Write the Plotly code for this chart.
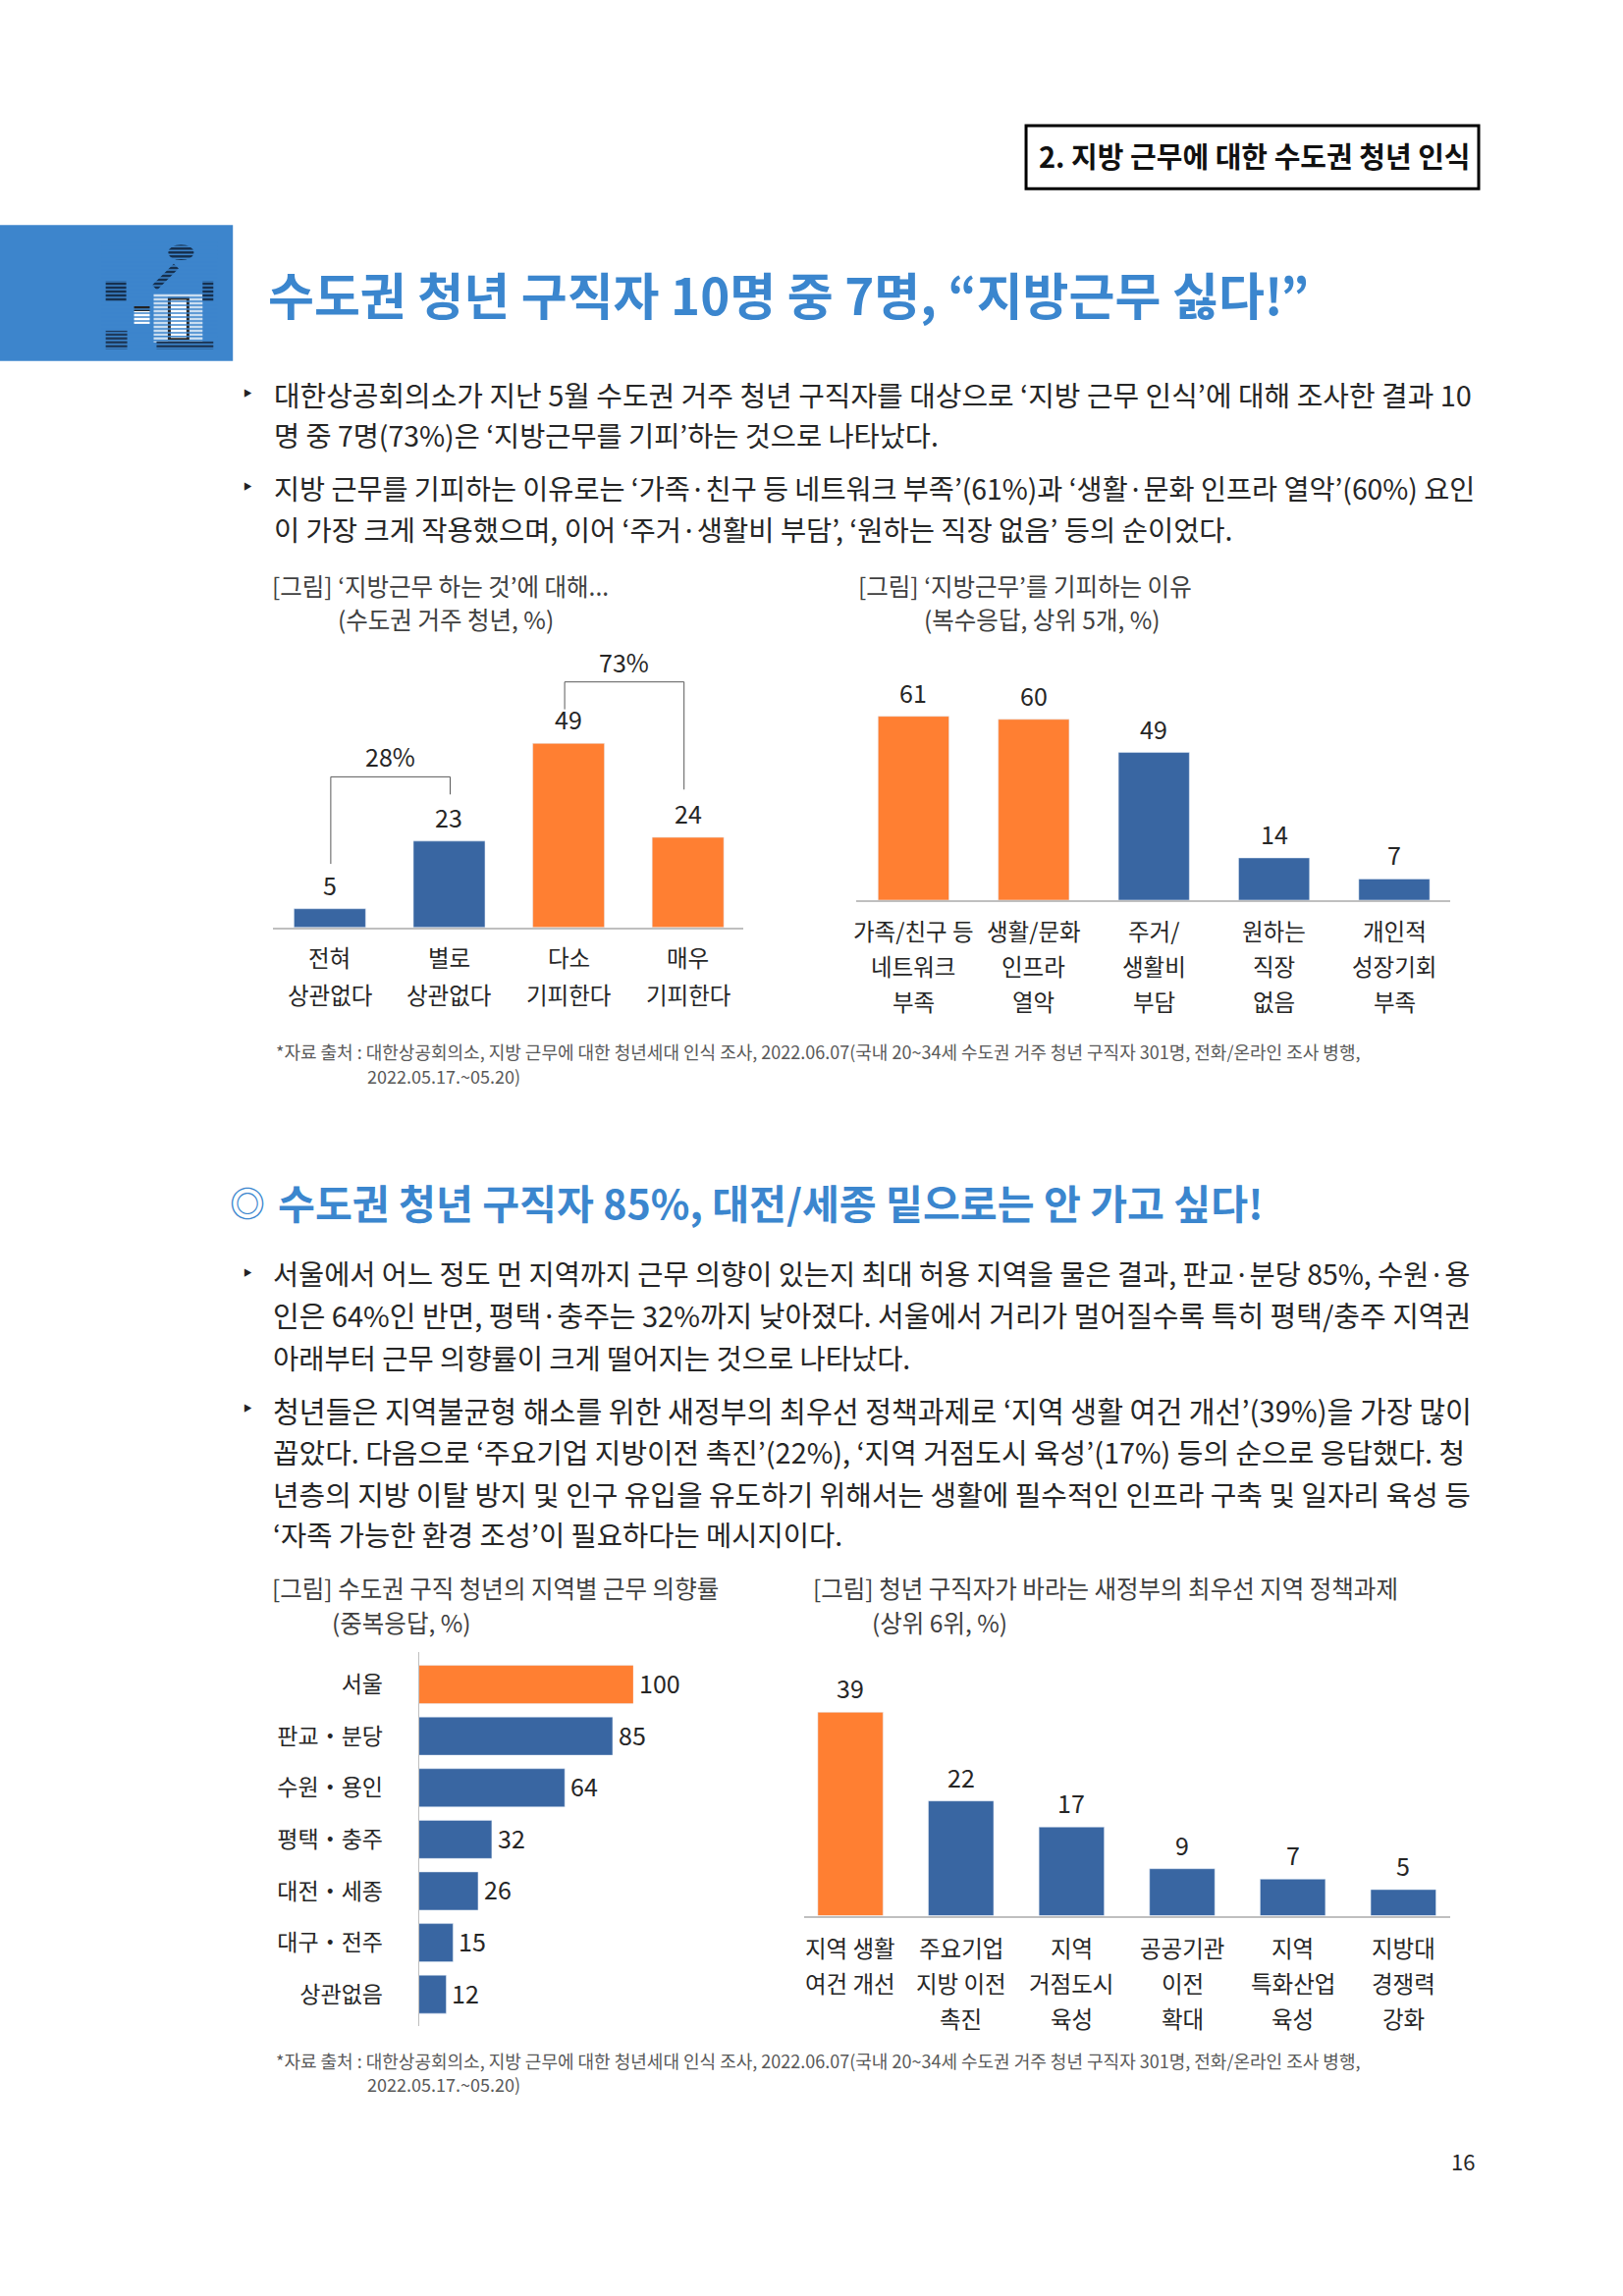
import plotly.graph_objects as go

W, H = 1653, 2339
S = 0.9967  # my measured page coordinates run slightly large
FONT = "Noto Sans CJK KR"
BLUE = "#3966A2"
ORANGE = "#FF7F32"
TITLE_BLUE = "#3B86CE"
TEXT = "#262626"
GREY_LINE = "#BFBFBF"

# --- chart data ---
attitude_cats = ["전혀 상관없다", "별로 상관없다", "다소 기피한다", "매우 기피한다"]
attitude_lines = [["전혀", "상관없다"], ["별로", "상관없다"], ["다소", "기피한다"], ["매우", "기피한다"]]
attitude_vals = [5, 23, 49, 24]
attitude_cols = [BLUE, BLUE, ORANGE, ORANGE]

reason_cats = ["가족/친구 등 네트워크 부족", "생활/문화 인프라 열악", "주거/생활비 부담", "원하는 직장 없음", "개인적 성장기회 부족"]
reason_lines = [["가족/친구 등", "네트워크", "부족"], ["생활/문화", "인프라", "열악"], ["주거/", "생활비", "부담"],
                ["원하는", "직장", "없음"], ["개인적", "성장기회", "부족"]]
reason_vals = [61, 60, 49, 14, 7]
reason_cols = [ORANGE, ORANGE, BLUE, BLUE, BLUE]

region_cats = ["서울", "판교・분당", "수원・용인", "평택・충주", "대전・세종", "대구・전주", "상관없음"]
region_vals = [100, 85, 64, 32, 26, 15, 12]
region_cols = [ORANGE, BLUE, BLUE, BLUE, BLUE, BLUE, BLUE]

policy_cats = ["지역 생활 여건 개선", "주요기업 지방 이전 촉진", "지역 거점도시 육성", "공공기관 이전 확대", "지역 특화산업 육성", "지방대 경쟁력 강화"]
policy_lines = [["지역 생활", "여건 개선"], ["주요기업", "지방 이전", "촉진"], ["지역", "거점도시", "육성"],
                ["공공기관", "이전", "확대"], ["지역", "특화산업", "육성"], ["지방대", "경쟁력", "강화"]]
policy_vals = [39, 22, 17, 9, 7, 5]
policy_cols = [ORANGE, BLUE, BLUE, BLUE, BLUE, BLUE]

# --- page text ---
page_tag = "2. 지방 근무에 대한 수도권 청년 인식"
page_title = "수도권 청년 구직자 10명 중 7명, “지방근무 싫다!”"
sub_title = "수도권 청년 구직자 85%, 대전/세종 밑으로는 안 가고 싶다!"
body_top = [
    "대한상공회의소가 지난 5월 수도권 거주 청년 구직자를 대상으로 ‘지방 근무 인식’에 대해 조사한 결과 10",
    "명 중 7명(73%)은 ‘지방근무를 기피’하는 것으로 나타났다.",
    "지방 근무를 기피하는 이유로는 ‘가족·친구 등 네트워크 부족’(61%)과 ‘생활·문화 인프라 열악’(60%) 요인",
    "이 가장 크게 작용했으며, 이어 ‘주거·생활비 부담’, ‘원하는 직장 없음’ 등의 순이었다.",
]
body_top_sizes = [28.95, 28.4, 28.3, 28.5]
body_bottom = [
    "서울에서 어느 정도 먼 지역까지 근무 의향이 있는지 최대 허용 지역을 물은 결과, 판교·분당 85%, 수원·용",
    "인은 64%인 반면, 평택·충주는 32%까지 낮아졌다. 서울에서 거리가 멀어질수록 특히 평택/충주 지역권",
    "아래부터 근무 의향률이 크게 떨어지는 것으로 나타났다.",
    "청년들은 지역불균형 해소를 위한 새정부의 최우선 정책과제로 ‘지역 생활 여건 개선’(39%)을 가장 많이",
    "꼽았다. 다음으로 ‘주요기업 지방이전 촉진’(22%), ‘지역 거점도시 육성’(17%) 등의 순으로 응답했다. 청",
    "년층의 지방 이탈 방지 및 인구 유입을 유도하기 위해서는 생활에 필수적인 인프라 구축 및 일자리 육성 등",
    "‘자족 가능한 환경 조성’이 필요하다는 메시지이다.",
]
body_bottom_sizes = [28.4, 29.0, 28.5, 29.2, 28.9, 28.9, 28.5]
source_1 = "*자료 출처 : 대한상공회의소, 지방 근무에 대한 청년세대 인식 조사, 2022.06.07(국내 20~34세 수도권 거주 청년 구직자 301명, 전화/온라인 조사 병행,"
source_2 = "2022.05.17.~05.20)"


def px(x):
    return x * S / W


def py(y):
    return 1 - y * S / H


fig = go.Figure()
notes = []
shapes = []


def put(text, x, y, size, color=TEXT, anchor="left", weight=400):
    notes.append(dict(text=text, x=px(x), y=py(y), xref="paper", yref="paper", xanchor=anchor,
                      yanchor="middle", showarrow=False,
                      font=dict(family=FONT, size=size, color=color, weight=weight)))


def rect(x0, y0, x1, y1, fill, line=None, width=0):
    shapes.append(dict(type="rect", xref="paper", yref="paper", x0=px(x0), x1=px(x1), y0=py(y0), y1=py(y1),
                       fillcolor=fill, line=dict(color=line or fill, width=width), layer="above"))


def seg(x0, y0, x1, y1, color="#595959", width=1):
    shapes.append(dict(type="line", xref="paper", yref="paper", x0=px(x0), x1=px(x1), y0=py(y0), y1=py(y1),
                       line=dict(color=color, width=width), layer="above"))


# --- vertical bar charts ---

def column_chart(idx, cats, vals, cols, lines, left, right, first_x, pitch, base, per_unit, top, gap, line_ys):
    name = "" if idx == 1 else str(idx)
    fig.add_trace(go.Bar(x=cats, y=vals, marker_color=cols, width=1 - gap, xaxis="x" + name, yaxis="y" + name,
                         showlegend=False, hoverinfo="skip"))
    x_low = (left - first_x) / pitch
    x_high = x_low + (right - left) / pitch
    fig.update_layout({
        "xaxis" + name: dict(domain=[px(left), px(right)], range=[x_low, x_high], type="category",
                             anchor="y" + name, showline=True, linecolor=GREY_LINE, linewidth=2,
                             showticklabels=False, ticks="", showgrid=False, zeroline=False),
        "yaxis" + name: dict(domain=[py(base), py(top)], range=[0, (base - top) / per_unit], anchor="x" + name,
                             visible=False, showgrid=False, zeroline=False),
    })
    for cat, val, parts in zip(cats, vals, lines):
        notes.append(dict(text=str(val), x=cat, y=val, xref="x" + name, yref="y" + name, yshift=25, yanchor="middle",
                          showarrow=False, font=dict(family=FONT, size=25, color=TEXT)))
        for part, ly in zip(parts, line_ys):
            notes.append(dict(text=part, x=cat, y=py(ly), xref="x" + name, yref="paper", yanchor="middle",
                              showarrow=False, font=dict(family=FONT, size=23.5, color=TEXT)))


column_chart(1, attitude_cats, attitude_vals, attitude_cols, attitude_lines,
             279, 760, 337, 122, 948, 3.84, 640, 0.40, [978, 1016])
column_chart(2, reason_cats, reason_vals, reason_cols, reason_lines,
             875, 1482, 933.5, 122.8, 920, 3.08, 690, 0.41, [951, 987, 1023])
column_chart(4, policy_cats, policy_vals, policy_cols, policy_lines,
             822, 1482, 869, 113, 1958, 5.33, 1700, 0.41, [1991, 2027, 2063])

# --- horizontal bars (source bar for 100 stops short, the axis clips it there) ---
region_max = 94
fig.add_trace(go.Bar(y=region_cats, x=region_vals, orientation="h", marker_color=region_cols, width=0.74,
                     xaxis="x3", yaxis="y3", showlegend=False, hoverinfo="skip"))
fig.update_layout(
    xaxis3=dict(domain=[px(428), px(647)], range=[0, region_max], anchor="y3", visible=False,
                showgrid=False, zeroline=False),
    yaxis3=dict(domain=[py(2071.3), py(1688.6)], range=[6.623, -0.627], type="category", anchor="x3",
                showline=True, linecolor=GREY_LINE, linewidth=1, ticks="", showgrid=False, zeroline=False,
                ticklabelstandoff=31, tickfont=dict(family=FONT, size=23, color=TEXT)),
)
for cat, val in zip(region_cats, region_vals):
    notes.append(dict(text=str(val), x=min(val, region_max), y=cat, xref="x3", yref="y3", xanchor="left", xshift=4,
                      yshift=2, showarrow=False, font=dict(family=FONT, size=25, color=TEXT)))

# --- page furniture ---
rect(1048.5, 128.5, 1511, 193, "rgba(0,0,0,0)", "#000000", 3)
put(page_tag, 1059, 159, 29, "#111111", weight=700)
rect(0, 230, 238, 369, "#3D85CC")
put(page_title, 271.5, 300, 51, TITLE_BLUE, weight=700)
put("◎", 233, 1228, 36, TITLE_BLUE)
put(sub_title, 282, 1228, 41.2, TITLE_BLUE, weight=700)

# icon
rect(157, 300, 207, 350, "#C9DDF0")
rect(173, 305, 192, 347, "#FFFFFF", "#2B2B2B", 3)
rect(137, 318, 153, 331, "#FFFFFF")
rect(137, 313, 153, 318, "#222222")
rect(108, 287, 129, 308, "#16304F")
rect(207, 287, 218, 308, "#16304F")
rect(108, 338, 130, 357, "#1E3A5C")
rect(160, 349, 218, 357, "#1E3A5C")
shapes.append(dict(type="circle", xref="paper", yref="paper", x0=px(172), x1=px(198), y0=py(250), y1=py(266),
                   fillcolor="#16304F", line=dict(width=0), layer="above"))
seg(180, 272, 158, 294, "#16304F", 7)
# the icon in the source is scan-lined
for stripe_y in range(248, 360, 4):
    seg(104, stripe_y, 222, stripe_y, "#3D85CC", 1.5)

for bullet_y in [400, 496, 1299, 1438]:
    put("‣", 246, bullet_y, 28, "#222222")

for line, size, y in zip(body_top, body_top_sizes, [402, 444, 498, 540]):
    put(line, 278, y, size)
for line, size, y in zip(body_bottom, body_bottom_sizes, [1301, 1343, 1387, 1441, 1483, 1526, 1568]):
    put(line, 277, y, size)

put("[그림] ‘지방근무 하는 것’에 대해...", 276, 598, 24.5, "#404040")
put("(수도권 거주 청년, %)", 343, 633, 24.5, "#404040")
put("[그림] ‘지방근무’를 기피하는 이유", 875, 598, 24.5, "#404040")
put("(복수응답, 상위 5개, %)", 942, 633, 24.5, "#404040")
put("[그림] 수도권 구직 청년의 지역별 근무 의향률", 276, 1623, 24.5, "#404040")
put("(중복응답, %)", 337, 1658, 24.5, "#404040")
put("[그림] 청년 구직자가 바라는 새정부의 최우선 지역 정책과제", 829, 1623, 24.5, "#404040")
put("(상위 6위, %)", 889, 1658, 24.5, "#404040")

for sy1, sy2 in [(1075, 1100), (2106, 2130)]:
    put(source_1, 279.5, sy1, 18, "#595959")
    put(source_2, 373, sy2, 18, "#595959")

# brackets over the first chart
seg(338, 883, 338, 794)
seg(338, 794, 460, 794)
seg(460, 794, 460, 812)
seg(577, 725, 577, 697)
seg(577, 697, 699, 697)
seg(699, 697, 699, 807)
put("28%", 399, 773, 25, anchor="center")
put("73%", 638, 676, 25, anchor="center")

put("16", 1509, 2208, 22, anchor="right")

fig.update_layout(width=W, height=H, autosize=False, margin=dict(l=0, r=0, t=0, b=0), paper_bgcolor="white",
                  plot_bgcolor="white", annotations=notes, shapes=shapes, bargap=0.41,
                  font=dict(family=FONT))
fig.write_html("out.html", config={"displayModeBar": False}, post_script="document.body.style.margin='0';")
